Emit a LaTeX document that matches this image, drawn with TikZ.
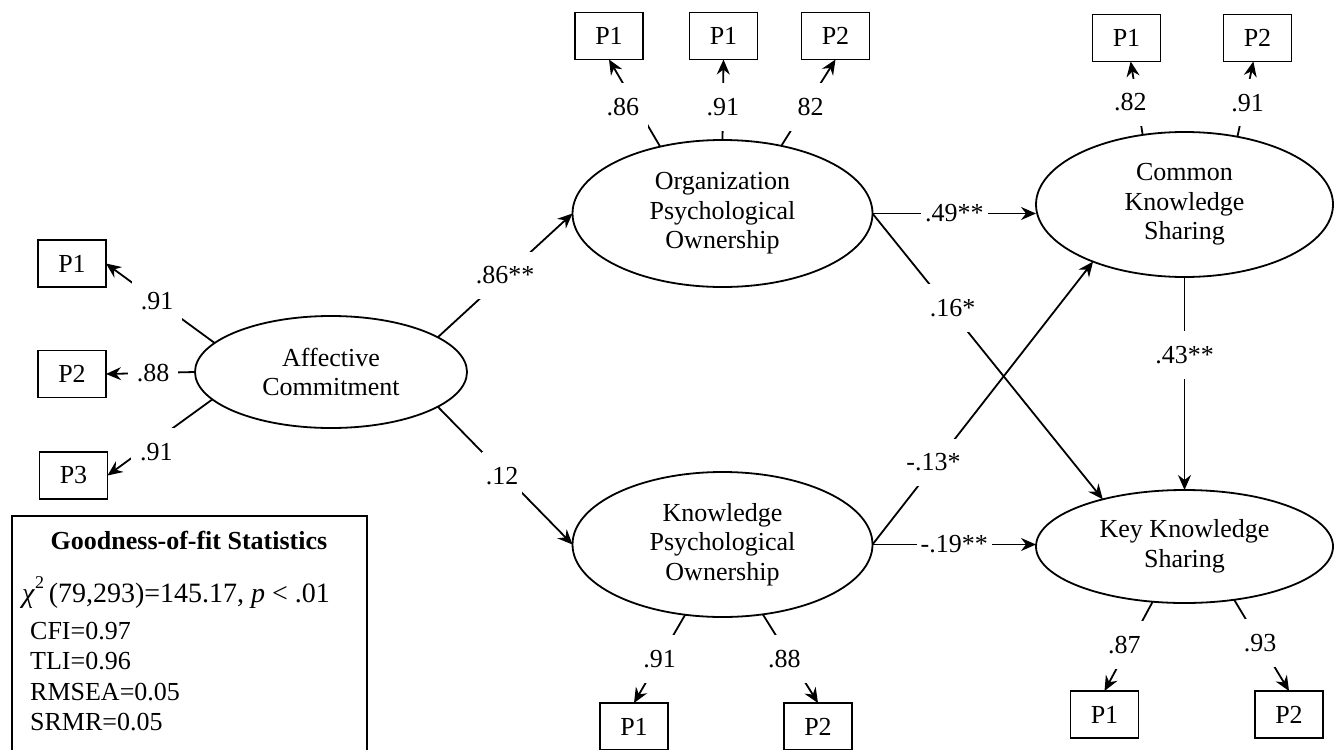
\documentclass[tikz,border=0pt]{standalone}
\usepackage{fontspec}
\setmainfont{Liberation Serif}
\usetikzlibrary{arrows.meta,shapes.geometric}
\begin{document}
\begin{tikzpicture}[x=1pt,y=-1pt,
  font=\fontsize{26}{29.5}\selectfont,
  lat/.style={draw, ellipse, line width=1.8pt, inner sep=0pt, outer sep=0pt, align=center},
  ind/.style={draw, rectangle, line width=1.8pt, minimum width=68pt, minimum height=47pt, inner sep=0pt, outer sep=0pt},
  conn/.style={line width=1.8pt, -{Stealth[length=15pt,width=13pt,inset=5pt]}},
  lbl/.style={fill=white, inner xsep=4pt, inner ysep=15pt},
  ilbl/.style={fill=white, inner xsep=9pt, inner ysep=15pt},
  gtext/.style={anchor=base west, inner sep=0pt}
]
\useasboundingbox (0,0) rectangle (1337,749);

% latent variables
\node[lat, minimum width=272pt, minimum height=112pt] (ac) at (331,372) {Affective\\Commitment};
\node[lat, minimum width=300pt, minimum height=147pt] (op) at (722.5,213.5) {Organization\\Psychological\\Ownership};
\node[lat, minimum width=300pt, minimum height=145pt] (kpo) at (722.5,544.5) {Knowledge\\Psychological\\Ownership};
\node[lat, minimum width=297pt, minimum height=145pt] (cks) at (1184.5,204.5) {Common\\Knowledge\\Sharing};
\node[lat, minimum width=297pt, minimum height=113pt] (kks) at (1184.5,546.5) {Key Knowledge\\Sharing};

% indicators
\node[ind] (a1) at (72,263.5) {P1};
\node[ind] (a2) at (72,374) {P2};
\node[ind] (a3) at (73.5,475.5) {P3};
\node[ind] (o1) at (609,36) {P1};
\node[ind] (o2) at (723.5,36) {P1};
\node[ind] (o3) at (835.5,36) {P2};
\node[ind] (c1) at (1126.5,38) {P1};
\node[ind] (c2) at (1257.5,38) {P2};
\node[ind] (k1) at (634,726.5) {P1};
\node[ind] (k2) at (818,726.5) {P2};
\node[ind] (y1) at (1104.5,714.5) {P1};
\node[ind] (y2) at (1289,714.5) {P2};

% loadings
\draw[conn] (ac.166.6) -- node[ilbl,pos=0.53]{.91} (a1.east);
\draw[conn] (ac.west) -- node[ilbl,pos=0.47]{.88} (a2.east);
\draw[conn] (ac.193) -- node[ilbl,pos=0.6,xshift=7pt,yshift=-7pt]{.91} (a3.east);
\draw[conn] (op.133.9) -- node[ilbl,pos=0.457,xshift=-14pt]{.86} (o1.south);
\draw[conn] (op.north) -- node[ilbl,pos=0.41]{.91} (o2.south);
\draw[conn] (op.49.8) -- node[ilbl,pos=0.448,xshift=5pt]{82} (o3.south);
\draw[conn] (cks.121.7) -- node[ilbl,pos=0.443,xshift=-7pt]{.82} (c1.-80);
\draw[conn] (cks.52.4) -- node[ilbl,pos=0.454,xshift=3pt]{.91} (c2.-100);
\draw[conn] (kpo.-118.6) -- node[ilbl,pos=0.5]{.91} (k1.north);
\draw[conn] (kpo.-60.1) -- node[ilbl,pos=0.5,xshift=-6pt]{.88} (k2.north);
\draw[conn] (kks.240.9) -- node[ilbl,pos=0.484,xshift=-5pt]{.87} (y1.north);
\draw[conn] (kks.-47.7) -- node[ilbl,pos=0.473]{.93} (y2.north);

% structural paths
\draw[conn] (ac.18) -- node[lbl]{.86**} (op.west);
\draw[conn] (ac.-18) -- node[lbl,xshift=-3pt]{.12} (kpo.west);
\draw[conn] (op.east) -- node[lbl]{.49**} (op.east -| cks.west);
\draw[conn] (op.east) -- node[lbl,pos=0.33,xshift=4pt]{.16*} (kks.150);
\draw[conn] (kpo.east) -- node[lbl,pos=0.29,xshift=-3pt]{-.13*} (cks.212.3);
\draw[conn] (kpo.east) -- node[lbl]{-.19**} (kpo.east -| kks.west);
\draw[conn] (cks.south) -- node[lbl,pos=0.366]{.43**} (kks.north);

% goodness-of-fit box
\node[draw, line width=1.8pt, anchor=north west, minimum width=355pt, minimum height=245pt, inner sep=0pt] (gof) at (11,515) {};
\node[anchor=base, inner sep=0pt, font=\fontsize{26}{29.5}\selectfont\bfseries] (gh) at (189,549) {Goodness-of-fit Statistics};
\node[gtext, font=\fontsize{28}{32}\selectfont] (chi) at (22,602) {\textit{χ}\raisebox{0.48em}{\fontsize{18}{18}\selectfont 2}\,(79,293)=145.17, \textit{p} < .01};
\node[gtext] (cfi) at (30,639) {CFI=0.97};
\node[gtext] (tli) at (30,669) {TLI=0.96};
\node[gtext] (rmsea) at (30,700) {RMSEA=0.05};
\node[gtext] (srmr) at (30,730) {SRMR=0.05};
\end{tikzpicture}
\end{document}
